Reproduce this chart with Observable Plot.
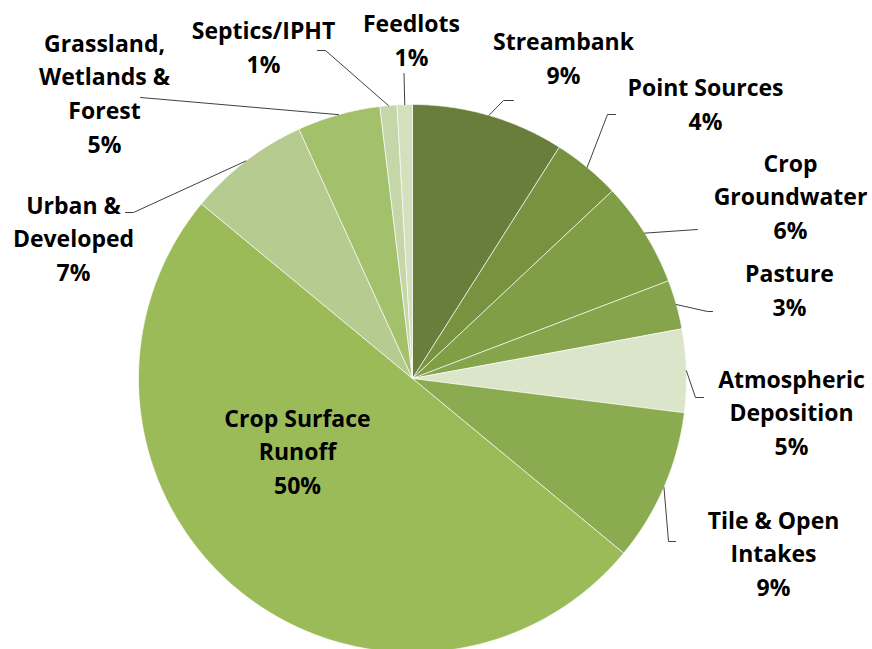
<!DOCTYPE html>
<html>
<head>
<meta charset="utf-8">
<script src="https://cdn.jsdelivr.net/npm/d3@7"></script>
<script src="https://cdn.jsdelivr.net/npm/@observablehq/plot@0.6"></script>
<style>
  html, body { margin: 0; padding: 0; background: #ffffff; }
  #chart svg { display: block; }
</style>
</head>
<body>
<div id="chart"></div>
<script>
// ---- Data (clockwise from 12 o'clock) ----
const categories = ["Streambank", "Point Sources", "Crop Groundwater", "Pasture",
  "Atmospheric Deposition", "Tile & Open Intakes", "Crop Surface Runoff",
  "Urban & Developed", "Grassland, Wetlands & Forest", "Septics/IPHT", "Feedlots"];
const shares = [9.0, 4.0, 6.2, 2.9, 4.9, 9.0, 50.0, 7.2, 4.9, 1.0, 0.9];
const pctLabels = ["9%", "4%", "6%", "3%", "5%", "9%", "50%", "7%", "5%", "1%", "1%"];
const displayNames = ["Streambank", "Point Sources", "Crop\nGroundwater", "Pasture",
  "Atmospheric\nDeposition", "Tile & Open\nIntakes", "Crop Surface\nRunoff",
  "Urban &\nDeveloped", "Grassland,\nWetlands &\nForest", "Septics/IPHT", "Feedlots"];
const colors = ["#6a7e3b", "#789340", "#7f9e46", "#85a44b", "#dbe5ca", "#8aab4f",
  "#9bbb59", "#b5cb8f", "#a3c06b", "#c5d7a8", "#d2e0bd"];

// ---- Layout (pixel frame of the 872x649 chart) ----
const W = 872, H = 649;
const pie = {cx: 412, cy: 378, r: 274};
// label block centres and leader-line elbows/ends
const labelLayout = {
  "Streambank":                   {at: [563, 56],  leader: [[503, 100], [513, 100]]},
  "Point Sources":                {at: [705, 102], leader: [[607, 114], [615, 114]]},
  "Crop Groundwater":             {at: [790, 194], leader: [[697, 229]]},
  "Pasture":                      {at: [789, 288], leader: [[707, 311], [712, 311]]},
  "Atmospheric Deposition":       {at: [791, 410], leader: [[695, 397], [703, 397]]},
  "Tile & Open Intakes":          {at: [773, 551], leader: [[668, 541], [675, 541]]},
  "Crop Surface Runoff":          {at: [297, 449], leader: null},
  "Urban & Developed":            {at: [73, 236],  leader: [[133, 212], [125, 212]]},
  "Grassland, Wetlands & Forest": {at: [104, 91],  leader: [[140, 97]]},
  "Septics/IPHT":                 {at: [263, 45],  leader: [[325, 50], [317, 50]]},
  "Feedlots":                     {at: [411, 38],  leader: [[403.5, 73]]}
};

// ---- Geometry from values ----
const arcs = d3.pie().sort(null).value(d => d)(shares);
const polar = (a, rr) => ({x: pie.cx + rr * Math.sin(a), y: pie.cy - rr * Math.cos(a)});

const slicePts = [];
arcs.forEach((a, i) => {
  const name = categories[i];
  slicePts.push({name, ...polar(0, 0)});
  const n = Math.max(4, Math.ceil((a.endAngle - a.startAngle) / (Math.PI / 360)));
  for (let k = 0; k <= n; k++) {
    const t = a.startAngle + (a.endAngle - a.startAngle) * k / n;
    slicePts.push({name, ...polar(t, pie.r)});
  }
  slicePts.push({name, ...polar(0, 0)});
});

const leaderPts = [];
const labels = [];
arcs.forEach((a, i) => {
  const name = categories[i];
  const lay = labelLayout[name];
  labels.push({name, x: lay.at[0], y: lay.at[1], text: displayNames[i] + "\n" + pctLabels[i]});
  if (lay.leader) {
    const mid = (a.startAngle + a.endAngle) / 2;
    leaderPts.push({name, ...polar(mid, pie.r)});
    lay.leader.forEach(p => leaderPts.push({name, x: p[0], y: p[1]}));
  }
});

const chart = Plot.plot({
  width: W, height: H,
  margin: 0,
  style: {background: "#ffffff"},
  x: {domain: [0, W], range: [0, W], axis: null},
  y: {domain: [0, H], range: [0, H], axis: null},
  color: {domain: categories, range: colors},
  marks: [
    Plot.line(slicePts, {x: "x", y: "y", z: "name", fill: "name", stroke: "#ffffff",
      strokeWidth: 0.8, strokeOpacity: 0.8, curve: "linear"}),
    Plot.line(leaderPts, {x: "x", y: "y", z: "name", stroke: "#404040", strokeWidth: 1, curve: "linear"}),
    Plot.text(labels, {x: "x", y: "y", text: "text", fontSize: 23, fontWeight: "bold",
      fontFamily: "Open Sans", lineHeight: 1.46, fill: "#000000", textAnchor: "middle"})
  ]
});
document.getElementById("chart").appendChild(chart);
</script>
</body>
</html>
